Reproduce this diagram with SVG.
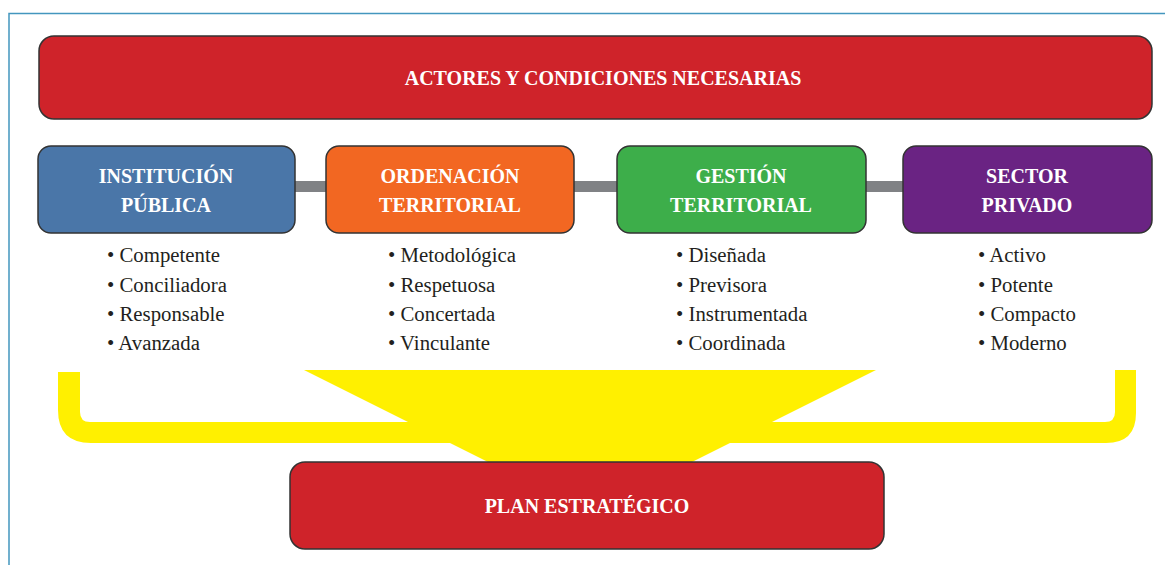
<svg xmlns="http://www.w3.org/2000/svg" width="1165" height="565" viewBox="0 0 1165 565">
<style>
.box{stroke:#333;stroke-width:1.5}
.ttl{font-family:"Liberation Serif",serif;font-weight:bold;fill:#fff;font-size:20px;text-anchor:middle}
.itm{font-family:"Liberation Serif",serif;fill:#231f20;font-size:20.8px}
.bar{fill:#808285}
</style>
<rect width="1165" height="565" fill="#fff"/>
<path d="M9,565 L9,13.5 L1165,13.5" fill="none" stroke="#4396be" stroke-width="1.5"/>
<g id="yellow">
<path d="M58,372 L58,410 Q58,443 91,443 L1106,443 Q1136,443 1136,413 L1136,370 L1115,370 L1115,412 Q1115,422 1105,422 L90,422 Q80,422 80,412 L80,372 Z" fill="#fff000"/>
<path d="M304,370 L876,370 L686,465 L494,465 Z" fill="#fff000"/>
</g>
<g id="connectors">
<rect class="bar" x="294" y="181" width="34" height="11"/>
<rect class="bar" x="573" y="181" width="46" height="11"/>
<rect class="bar" x="865" y="181" width="40" height="11"/>
</g>
<g id="actores">
<rect class="box" x="39" y="36" width="1113" height="83" rx="15" fill="#cf232a"/>
<text class="ttl" x="603" y="85" font-size="19">ACTORES Y CONDICIONES NECESARIAS</text>
</g>
<g id="institucion">
<rect class="box" x="38" y="146" width="257" height="87" rx="13" fill="#4a76a8"/>
<text class="ttl" x="166" y="183">INSTITUCIÓN</text>
<text class="ttl" x="166" y="212">PÚBLICA</text>
<text class="itm" x="107" y="262">• Competente</text>
<text class="itm" x="107" y="292">• Conciliadora</text>
<text class="itm" x="107" y="321">• Responsable</text>
<text class="itm" x="107" y="350">• Avanzada</text>
</g>
<g id="ordenacion">
<rect class="box" x="326" y="146" width="248" height="87" rx="13" fill="#f26722"/>
<text class="ttl" x="450" y="183">ORDENACIÓN</text>
<text class="ttl" x="450" y="212">TERRITORIAL</text>
<text class="itm" x="388" y="262">• Metodológica</text>
<text class="itm" x="388" y="292">• Respetuosa</text>
<text class="itm" x="388" y="321">• Concertada</text>
<text class="itm" x="388" y="350">• Vinculante</text>
</g>
<g id="gestion">
<rect class="box" x="617" y="146" width="249" height="87" rx="13" fill="#3dae4a"/>
<text class="ttl" x="741" y="183">GESTIÓN</text>
<text class="ttl" x="741" y="212">TERRITORIAL</text>
<text class="itm" x="676" y="262">• Diseñada</text>
<text class="itm" x="676" y="292">• Previsora</text>
<text class="itm" x="676" y="321">• Instrumentada</text>
<text class="itm" x="676" y="350">• Coordinada</text>
</g>
<g id="sector">
<rect class="box" x="903" y="146" width="249" height="87" rx="13" fill="#6a2383"/>
<text class="ttl" x="1027" y="183">SECTOR</text>
<text class="ttl" x="1027" y="212">PRIVADO</text>
<text class="itm" x="978" y="262">• Activo</text>
<text class="itm" x="978" y="292">• Potente</text>
<text class="itm" x="978" y="321">• Compacto</text>
<text class="itm" x="978" y="350">• Moderno</text>
</g>
<g id="plan">
<rect class="box" x="290" y="462" width="594" height="87" rx="15" fill="#cf232a"/>
<text class="ttl" x="587" y="513">PLAN ESTRATÉGICO</text>
</g>
</svg>
